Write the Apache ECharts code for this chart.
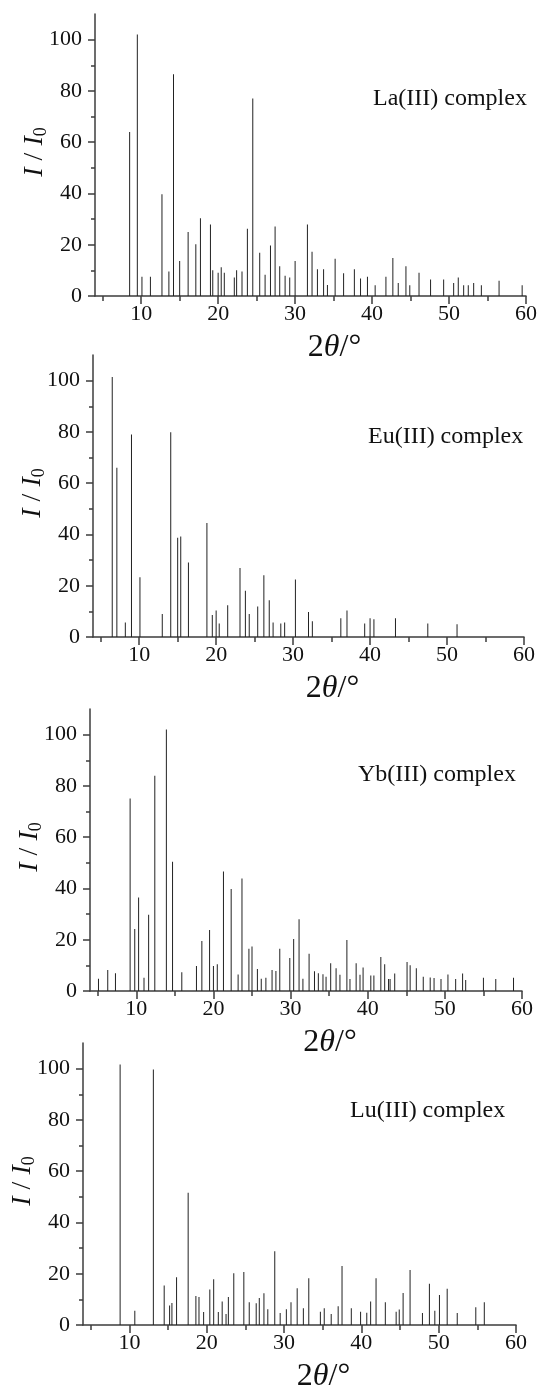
<!DOCTYPE html>
<html>
<head>
<meta charset="utf-8">
<script src="https://cdn.jsdelivr.net/npm/echarts@6/dist/echarts.min.js"></script>
<style>
  html, body { margin: 0; padding: 0; background: #fff; }
  #chart { width: 539px; height: 1392px; }
</style>
</head>
<body>
<div id="chart"></div>
<script>
// Powder XRD stick patterns: diffraction angle 2θ (degrees) and relative intensity I/I0 (%)

const laAngle = [8.5, 9.5, 10.1, 11.2, 12.7, 13.6, 14.2, 15.0, 16.1, 17.1, 17.7, 19.0, 19.3, 20.0, 20.4,
  20.8, 22.1, 22.4, 23.1, 23.8, 24.5, 25.4, 26.1, 26.8, 27.4, 28.0, 28.7, 29.3, 30.0, 31.6, 32.2, 32.9,
  33.7, 34.2, 35.2, 36.3, 37.7, 38.5, 39.4, 40.4, 41.8, 42.7, 43.4, 44.4, 44.9, 46.1, 47.6, 49.3, 50.6,
  51.2, 51.9, 52.5, 53.2, 54.2, 56.5, 59.5];
const laIntensity = [64, 102, 7.5, 7.5, 39.7, 9.6, 86.5, 13.7, 25, 20.2, 30.3, 27.9, 10, 9.1, 11.2,
  9.1, 7.2, 10, 9.6, 26.2, 77, 16.9, 8.3, 19.7, 27.1, 11.6, 7.9, 7.2, 13.7, 27.9, 17.3, 10.4,
  10.4, 4.3, 14.5, 8.9, 10.4, 6.8, 7.5, 4.2, 7.5, 14.8, 5.1, 11.6, 4.2, 9.1, 6.4, 6.4, 5.1,
  7.2, 4.2, 4.2, 5.1, 4.2, 5.9, 4.2];

const euAngle = [6.5, 7.1, 8.2, 9.0, 10.1, 13.0, 14.1, 15.0, 15.4, 16.4, 18.8, 19.5, 20.0, 20.4, 21.5,
  23.1, 23.8, 24.3, 25.4, 26.2, 26.9, 27.4, 28.4, 28.9, 30.3, 32.0, 32.5, 36.2, 37.0, 39.3, 40.0,
  40.5, 43.3, 47.5, 51.3];
const euIntensity = [101.4, 66, 5.7, 79, 23.3, 9, 79.9, 38.7, 39.2, 29.1, 44.5, 8.6, 10.3, 5.3, 12.4,
  26.9, 18, 9, 11.9, 24.1, 14.3, 5.7, 5.3, 5.7, 22.4, 9.8, 6.1, 7.3, 10.3, 5.3, 7.3,
  6.9, 7.3, 5.3, 5];

const ybAngle = [5.1, 6.3, 7.3, 9.2, 9.8, 10.3, 11.0, 11.6, 12.4, 13.9, 14.7, 15.9, 17.8, 18.5, 19.5,
  20.0, 20.5, 21.3, 22.3, 23.2, 23.7, 24.6, 25.0, 25.7, 26.2, 26.8, 27.6, 28.1, 28.6, 29.9, 30.4,
  31.1, 31.6, 32.4, 33.1, 33.6, 34.2, 34.6, 35.2, 35.9, 36.4, 37.3, 37.7, 38.5, 39.0, 39.4, 40.4,
  40.8, 41.7, 42.2, 42.7, 42.9, 43.5, 45.1, 45.5, 46.3, 47.2, 48.1, 48.6, 49.5, 50.4, 51.4, 52.3,
  52.7, 55.0, 56.6, 58.9];
const ybIntensity = [4.8, 8.2, 6.9, 75.1, 24.2, 36.5, 5.2, 29.7, 84, 102, 50.4, 7.3, 9.8, 19.5, 23.8,
  9.8, 10.4, 46.6, 39.8, 6.4, 43.9, 16.5, 17.4, 8.6, 4.8, 5.2, 8.2, 7.8, 16.5, 12.9, 20.3,
  28, 4.8, 14.5, 7.7, 6.9, 6.5, 5.6, 10.8, 8.9, 6.3, 19.9, 4.7, 10.8, 6.3, 9.2, 6,
  6, 13.3, 10.4, 4.7, 4.7, 6.8, 11.3, 10, 8.9, 5.6, 5.3, 5.1, 4.7, 6.4, 4.7, 6.8,
  4.3, 5.2, 4.7, 5.2];

const luAngle = [8.8, 10.7, 13.1, 14.5, 15.2, 15.5, 16.1, 17.6, 18.6, 19.0, 19.6, 20.4, 20.9, 21.5, 22.0,
  22.5, 22.8, 23.5, 24.8, 25.5, 26.4, 26.8, 27.4, 27.9, 28.8, 29.5, 30.3, 30.9, 31.7, 32.5, 33.2,
  34.7, 35.2, 36.1, 37.0, 37.5, 38.7, 39.9, 40.7, 41.2, 41.9, 43.1, 44.5, 44.9, 45.4, 46.3, 47.9,
  48.8, 49.5, 50.1, 51.1, 52.4, 54.8, 55.9];
const luIntensity = [101.6, 5.6, 99.7, 15.4, 7.6, 8.6, 18.6, 51.6, 11.3, 10.9, 5.1, 13.8, 17.8, 5.1, 9.2,
  4.3, 10.9, 20.2, 20.7, 8.9, 8.5, 10.5, 12.4, 6.1, 28.8, 4.7, 6.1, 8.9, 14.3, 6.5, 18.2,
  5.2, 6.5, 4.3, 7.3, 23, 6.5, 5.2, 4.8, 9.2, 18.2, 8.9, 5.2, 6, 12.5, 21.5, 4.7,
  16.1, 5.6, 11.7, 14.1, 4.7, 6.9, 8.9];

const complexNames = ['La(III) complex', 'Eu(III) complex', 'Yb(III) complex', 'Lu(III) complex'];
const angleSets = [laAngle, euAngle, ybAngle, luAngle];
const intensitySets = [laIntensity, euIntensity, ybIntensity, luIntensity];

// Axis ranges and tick positions
const xRange = [4, 60];
const yRange = [0, 110];
const xMajorTicks = [10, 20, 30, 40, 50, 60];
const xMinorTicks = [5, 15, 25, 35, 45, 55];
const yMajorTicks = [0, 20, 40, 60, 80, 100];
const yMinorTicks = [10, 30, 50, 70, 90];

// Panel layout (pixels)
const gridBoxes = [
  { left: 95, top: 14, width: 431, height: 282 },
  { left: 93, top: 355, width: 431, height: 282 },
  { left: 90, top: 709, width: 432, height: 282 },
  { left: 83, top: 1043, width: 433, height: 282 }
];
const namePos = [
  { left: 373, top: 87 },
  { left: 368, top: 425 },
  { left: 358, top: 763 },
  { left: 350, top: 1099 }
];

const SERIF = '"Liberation Serif", "Times New Roman", serif';
const INK = '#111';
const AXIS = '#3c3c3c';

const option = {
  animation: false,
  backgroundColor: '#fff',
  title: [],
  grid: [],
  xAxis: [],
  yAxis: [],
  series: [],
  graphic: []
};

gridBoxes.forEach((box, p) => {
  option.grid.push(Object.assign({ containLabel: false, outerBoundsMode: 'none' }, box));

  option.title.push({
    text: complexNames[p],
    left: namePos[p].left,
    top: namePos[p].top,
    padding: 0,
    textStyle: { fontFamily: SERIF, fontSize: 24, fontWeight: 'normal', color: INK }
  });

  // axis titles: 2θ/° under the x axis, rotated I/I0 beside the y axis
  option.graphic.push({
    type: 'text',
    x: box.left + box.width / 2 + 24,
    y: box.top + box.height + 36,
    silent: true,
    style: {
      text: '2{it|θ}/°',
      fontFamily: SERIF, fontSize: 32, fill: INK,
      align: 'center', verticalAlign: 'top',
      rich: { it: { fontFamily: SERIF, fontSize: 32, fontStyle: 'italic', fill: INK, color: INK } }
    }
  });
  option.graphic.push({
    type: 'text',
    x: box.left - 60,
    y: box.top + box.height / 2 - 3,
    rotation: Math.PI / 2,
    silent: true,
    style: {
      text: '{it|I} / {it|I}{sub|0}',
      fontFamily: SERIF, fontSize: 28, fill: INK,
      align: 'center', verticalAlign: 'middle',
      rich: {
        it: { fontFamily: SERIF, fontSize: 28, fontStyle: 'italic', fill: INK, color: INK, lineHeight: 30 },
        sub: { fontFamily: SERIF, fontSize: 18, fill: INK, color: INK, verticalAlign: 'bottom', lineHeight: 12 }
      }
    }
  });

  // main x axis: line, major ticks, labels
  option.xAxis.push({
    type: 'value', gridIndex: p, position: 'bottom',
    min: xRange[0], max: xRange[1],
    axisLine: { show: true, onZero: false, lineStyle: { color: AXIS, width: 1.5 } },
    axisTick: { show: true, inside: false, length: 8, customValues: xMajorTicks, lineStyle: { color: AXIS, width: 1.5 } },
    axisLabel: { show: true, margin: 7, customValues: xMajorTicks, fontFamily: SERIF, fontSize: 22, color: INK },
    splitLine: { show: false }
  });
  // minor x ticks
  option.xAxis.push({
    type: 'value', gridIndex: p, position: 'bottom',
    min: xRange[0], max: xRange[1],
    axisLine: { show: false, onZero: false },
    axisTick: { show: true, inside: false, length: 5, customValues: xMinorTicks, lineStyle: { color: AXIS, width: 1.5 } },
    axisLabel: { show: false },
    splitLine: { show: false }
  });

  // main y axis
  option.yAxis.push({
    type: 'value', gridIndex: p, position: 'left',
    min: yRange[0], max: yRange[1],
    axisLine: { show: true, onZero: false, lineStyle: { color: AXIS, width: 1.5 } },
    axisTick: { show: true, inside: false, length: 7, customValues: yMajorTicks, lineStyle: { color: AXIS, width: 1.5 } },
    axisLabel: { show: true, margin: 13, customValues: yMajorTicks, fontFamily: SERIF, fontSize: 22, color: INK },
    splitLine: { show: false }
  });
  // minor y ticks
  option.yAxis.push({
    type: 'value', gridIndex: p, position: 'left',
    min: yRange[0], max: yRange[1],
    axisLine: { show: false, onZero: false },
    axisTick: { show: true, inside: false, length: 4, customValues: yMinorTicks, lineStyle: { color: AXIS, width: 1.5 } },
    axisLabel: { show: false },
    splitLine: { show: false }
  });

  option.series.push({
    type: 'bar',
    name: complexNames[p],
    xAxisIndex: 2 * p,
    yAxisIndex: 2 * p,
    barWidth: 1,
    itemStyle: { color: '#222' },
    data: angleSets[p].map((a, i) => [a, intensitySets[p][i]])
  });
});

const chart = echarts.init(document.getElementById('chart'), null, { renderer: 'canvas' });
chart.setOption(option);
</script>
</body>
</html>
